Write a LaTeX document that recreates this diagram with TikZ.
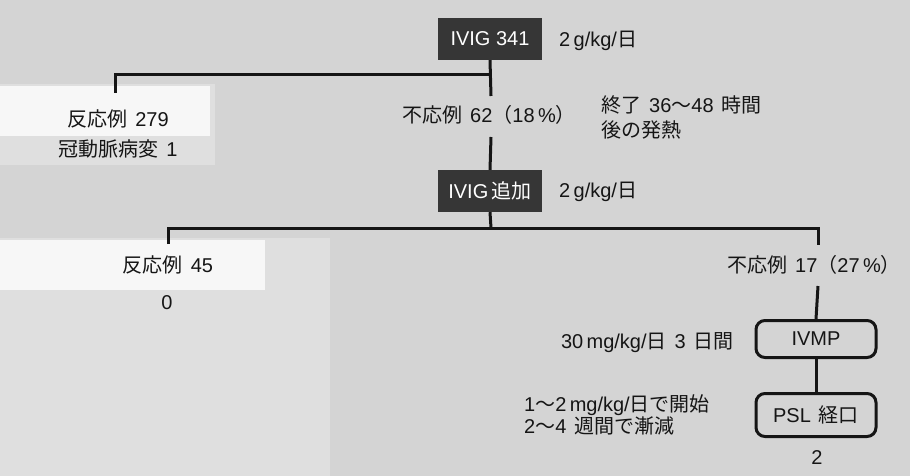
\documentclass[tikz,border=0pt]{standalone}
\usepackage{fontspec}
\setmainfont{Liberation Sans}
\newfontfamily\cj{Noto Sans CJK JP}
\definecolor{bg}{HTML}{D4D4D4}
\definecolor{lightbg}{HTML}{DFDFDF}
\definecolor{patch}{HTML}{F7F7F7}
\definecolor{boxfill}{HTML}{363636}
\definecolor{ink}{HTML}{151515}
\newcommand{\gap}{\hspace{0.4em}}
\begin{document}
\begin{tikzpicture}[x=1pt,y=-1pt,
  lbl/.style={font=\fontsize{20}{22}\selectfont, text=ink, inner sep=1pt},
  darkbox/.style={fill=boxfill, text=white, minimum width=104, minimum height=42, inner sep=0pt, font=\fontsize{20}{22}\selectfont},
  rbox/.style={draw=ink, line width=3pt, rounded corners=9pt, fill=bg, minimum width=120, minimum height=37, inner sep=0pt, text=ink, font=\fontsize{20}{22}\selectfont},
  conn/.style={draw=ink, line width=3pt}]
\useasboundingbox (0,0) rectangle (910,476);
\fill[bg] (0,0) rectangle (910,476);
% lighter scanned areas
\fill[lightbg] (0,238) rectangle (330,476);
\fill[lightbg] (0,84) rectangle (215,165);
\fill[patch] (0,86) rectangle (210,136);
\fill[patch] (0,240) rectangle (265,290);

% nodes
\node[darkbox] (ivig1) at (490,39) {IVIG 341};
\node[lbl, anchor=west] (dose1) at (558,41) {2\,g/kg/{\cj 日}};
\node[lbl] (resp1) at (118,119) {{\cj 反応例}\gap 279};
\node[lbl] (cor) at (118,149) {{\cj 冠動脈病変}\gap 1};
\node[lbl] (nonresp1) at (489,115) {{\cj 不応例}\gap 62{\cj （}18\,\%{\cj ）}};
\node[lbl, anchor=west, align=left, font=\fontsize{20}{25}\selectfont] (note1) at (600,117) {{\cj 終了}\gap 36{\cj ～}48\gap{\cj 時間}\\{\cj 後の発熱}};
\node[darkbox] (ivig2) at (490,191) {IVIG\,{\cj 追加}};
\node[lbl, anchor=west] (dose2) at (558,192) {2\,g/kg/{\cj 日}};
\node[lbl] (resp2) at (168,265) {{\cj 反応例}\gap 45};
\node[lbl] (zero) at (167,303) {0};
\node[lbl] (nonresp2) at (814,265) {{\cj 不応例}\gap 17{\cj （}27\,\%{\cj ）}};
\node[rbox] (ivmp) at (816,339) {IVMP};
\node[rbox, minimum height=43] (psl) at (816,415) {PSL\gap{\cj 経口}};
\node[lbl] (two) at (817,458) {2};
\node[lbl, anchor=east] (note2) at (735,343) {30\,mg/kg/{\cj 日}\gap 3\gap{\cj 日間}};
\node[lbl, anchor=west, align=left, font=\fontsize{20}{20}\selectfont] (note3) at (523,415) {1{\cj ～}2\,mg/kg/{\cj 日で開始}\\2{\cj ～}4\gap{\cj 週間で漸減}};

% junction coordinates
\coordinate (h1) at (491,75);
\coordinate (l1) at (115,93);
\coordinate (c1a) at (491,96);
\coordinate (c1b) at (491,137);
\coordinate (h2) at (491,228);
\coordinate (l2) at (168,244);
\coordinate (r2) at (818,245);
\coordinate (r2b) at (818,286);

% connectors
\draw[conn] (ivig1.south) -- (c1a);
\draw[conn] (l1) |- (h1);
\draw[conn] (c1b) -- (ivig2.north);
\draw[conn] (ivig2.south) -- (h2);
\draw[conn] (l2) |- (h2) -| (r2);
\draw[conn] (r2b) -- (ivmp.north);
\draw[conn] (ivmp.south) -- (psl.north);
\end{tikzpicture}
\end{document}
